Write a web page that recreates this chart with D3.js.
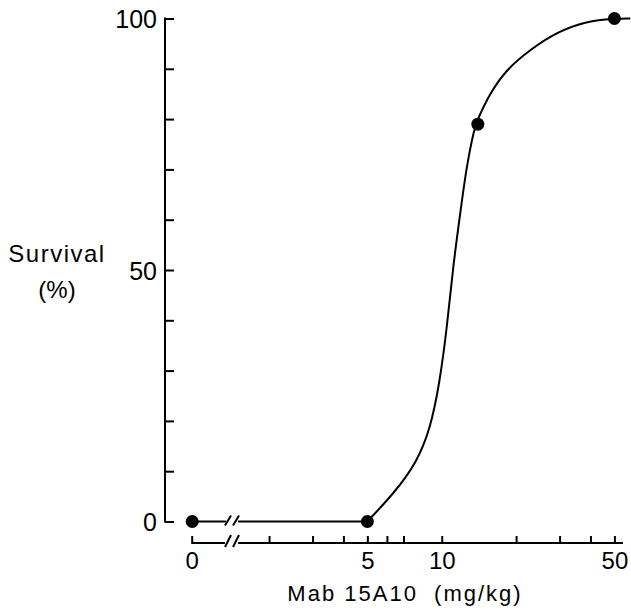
<!DOCTYPE html>
<html>
<head>
<meta charset="utf-8">
<script src="https://cdn.jsdelivr.net/npm/d3@7"></script>
<style>
  html, body { margin: 0; padding: 0; background: #fff; }
  svg { display: block; }
  text { font-family: "Liberation Sans", "DejaVu Sans", sans-serif; fill: #000; }
</style>
</head>
<body>
<svg id="chart" width="631" height="614"></svg>
<script>
// ---- data ----
const doses = [0, 5, 14, 50];              // Mab 15A10 (mg/kg)
const survival = [0, 0, 79, 100];          // survival (%)
// fitted curve (dose, survival)
const curveDose = [5, 6.4, 7.9, 9.0, 9.8, 10.5, 11.1, 11.9, 12.6, 13.6, 14.0, 15.7, 18.3, 22.8, 29.2, 38.6, 50, 58];
const curveSurv = [0, 5.6, 11.6, 18.5, 27.5, 38.5, 50.5, 61.5, 70.6, 78.5, 80.0, 85.2, 89.9, 93.8, 97.3, 99.5, 100, 100];
const xTicks = [2, 3, 4, 5, 6, 7, 10, 20, 30, 40, 50];
const xTickLabels = [5, 10, 50];
const yTicks = [0, 10, 20, 30, 40, 50, 60, 70, 80, 90, 100];
const yTickLabels = [0, 50, 100];

// ---- layout ----
const svg = d3.select("#chart");
const axisX = 165;       // y-axis position
const axisY = 543;       // x-axis position
const breakL = 228, breakR = 236;
const axisEnd = 623;

const x = d3.scaleLog().domain([1, 50]).range([194.7, 614.4]);
const y = d3.scaleLinear().domain([0, 100]).range([521.5, 18.5]);
const xPos = d => d === 0 ? x(1) - 2.5 : x(d);

const stroke = "#000";

// ---- y axis ----
const yAxis = d3.axisLeft(y)
  .tickValues(yTicks)
  .tickSize(-9)
  .tickPadding(8)
  .tickFormat(d => yTickLabels.includes(d) ? d : "");
const gy = svg.append("g").attr("transform", `translate(${axisX},0)`).call(yAxis);
gy.select(".domain").remove();
gy.selectAll(".tick line").attr("stroke", stroke).attr("stroke-width", 2);
gy.selectAll(".tick text").style("font-size", "25px").attr("dy", "0.36em")
  .style("font-family", '"Liberation Sans", sans-serif');
gy.append("line").attr("x1", 0).attr("x2", 0)
  .attr("y1", y(100) - 1).attr("y2", y(0) + 1)
  .attr("stroke", stroke).attr("stroke-width", 2);

// ---- x axis ----
const xAxis = d3.axisBottom(x)
  .tickValues(xTicks)
  .tickSize(-7)
  .tickPadding(9)
  .tickFormat(d => xTickLabels.includes(d) ? d : "");
const gx = svg.append("g").attr("transform", `translate(0,${axisY})`).call(xAxis);
gx.select(".domain").remove();
gx.selectAll(".tick line").attr("stroke", stroke).attr("stroke-width", 2);
gx.selectAll(".tick text").style("font-size", "24px").attr("dy", "0.71em")
  .style("font-family", '"Liberation Sans", sans-serif');

// zero part of the x axis
const x0 = xPos(0);
svg.append("path")
  .attr("d", `M${x0},${axisY - 7} L${x0},${axisY} L${breakL - 3},${axisY}`)
  .attr("fill", "none").attr("stroke", stroke).attr("stroke-width", 2);
svg.append("line").attr("x1", breakR + 2).attr("x2", axisEnd)
  .attr("y1", axisY).attr("y2", axisY).attr("stroke", stroke).attr("stroke-width", 2);
// axis break slashes
[breakL, breakR].forEach(bx => {
  svg.append("line").attr("x1", bx - 3).attr("y1", axisY + 4)
    .attr("x2", bx + 3).attr("y2", axisY - 8)
    .attr("stroke", stroke).attr("stroke-width", 2);
});
svg.append("text").attr("x", x0).attr("y", axisY + 9).attr("dy", "0.71em")
  .attr("text-anchor", "middle").style("font-size", "24px").text("0");

// ---- data line: 0 -> 5 with break ----
const y0 = y(0);
svg.append("line").attr("x1", xPos(0)).attr("x2", breakL - 2)
  .attr("y1", y0).attr("y2", y0).attr("stroke", stroke).attr("stroke-width", 2);
svg.append("line").attr("x1", breakR + 2).attr("x2", xPos(5))
  .attr("y1", y0).attr("y2", y0).attr("stroke", stroke).attr("stroke-width", 2);
[breakL, breakR].forEach(bx => {
  svg.append("line").attr("x1", bx - 3).attr("y1", y0 + 4)
    .attr("x2", bx + 3).attr("y2", y0 - 6)
    .attr("stroke", stroke).attr("stroke-width", 2);
});

// ---- fitted curve ----
const curvePts = curveDose.map((d, i) => [d, curveSurv[i]]);
const line = d3.line().x(d => x(d[0])).y(d => y(d[1])).curve(d3.curveBasis);
svg.append("path").datum(curvePts).attr("d", line)
  .attr("fill", "none").attr("stroke", stroke).attr("stroke-width", 2);

// ---- points ----
svg.selectAll("circle.pt").data(doses.map((d, i) => [d, survival[i]]))
  .enter().append("circle").attr("class", "pt")
  .attr("cx", d => xPos(d[0])).attr("cy", d => y(d[1])).attr("r", 6.5)
  .attr("fill", stroke);

// ---- axis titles ----
svg.append("text").attr("x", 57).attr("y", 262).attr("text-anchor", "middle")
  .style("font-size", "24px").style("letter-spacing", "1.5px").text("Survival");
svg.append("text").attr("x", 57).attr("y", 298).attr("text-anchor", "middle")
  .style("font-size", "24px").text("(%)");
svg.append("text").attr("x", 405).attr("y", 601).attr("text-anchor", "middle")
  .style("font-size", "22px").style("letter-spacing", "2px")
  .attr("xml:space", "preserve").text("Mab 15A10  (mg/kg)");
</script>
</body>
</html>
